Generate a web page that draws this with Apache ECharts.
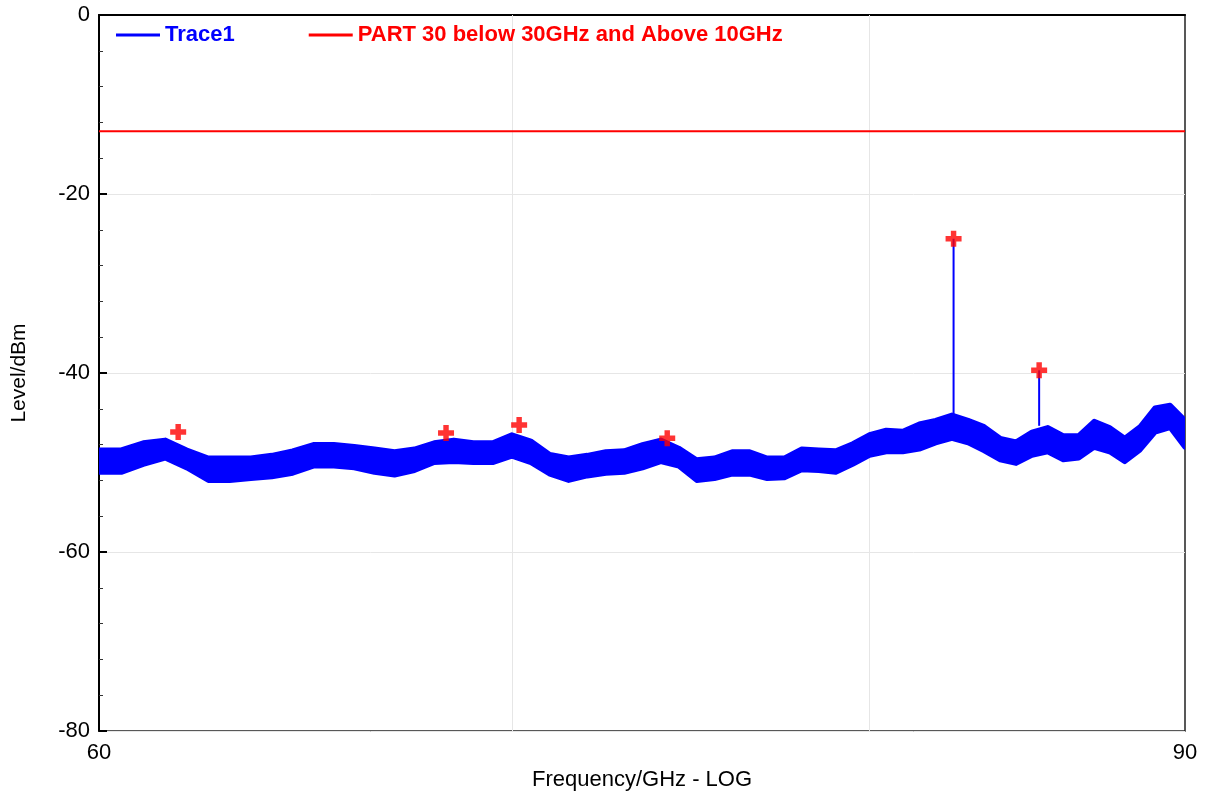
<!DOCTYPE html>
<html>
<head>
<meta charset="utf-8">
<script src="https://cdn.jsdelivr.net/npm/echarts@6/dist/echarts.min.js"></script>
<style>
html,body{margin:0;padding:0;background:#fff;}
#chart{width:1208px;height:791px;}
</style>
</head>
<body>
<div id="chart"></div>
<script>
// ---- data ----
const traceName = 'Trace1';
const limitName = 'PART 30 below 30GHz and Above 10GHz';
// sample frequencies (GHz) of the trace envelope
const freqs = [60,60.5,61,61.5,62,62.5,63,63.5,64,64.5,65,65.5,66,66.5,67,67.5,68,68.5,69,69.5,70,70.5,71,71.5,72,72.5,73,73.5,74,74.5,75,75.5,76,76.5,77,77.5,78,78.5,79,79.5,80,80.5,81,81.5,82,82.5,83,83.5,84,84.5,85,85.5,86,86.5,87,87.5,88,88.5,89,89.5,90];
// upper edge of the noisy trace band (dBm)
const upper = [-48.6,-48.6,-47.8,-47.5,-48.6,-49.5,-49.5,-49.5,-49.2,-48.7,-48.0,-48.0,-48.2,-48.5,-48.8,-48.5,-47.8,-47.5,-47.8,-47.8,-46.9,-47.6,-49.1,-49.5,-49.2,-48.8,-48.7,-48.0,-47.5,-48.4,-49.7,-49.5,-48.8,-48.8,-49.5,-49.5,-48.5,-48.6,-48.7,-47.9,-46.9,-46.4,-46.5,-45.7,-45.3,-44.7,-45.3,-46.0,-47.3,-47.7,-46.6,-46.1,-47.0,-47.0,-45.4,-46.1,-47.3,-46.0,-43.9,-43.6,-45.3];
// lower edge of the noisy trace band (dBm)
const lower = [-51.1,-51.1,-50.2,-49.5,-50.6,-52.0,-52.0,-51.8,-51.6,-51.2,-50.4,-50.4,-50.6,-51.1,-51.4,-50.9,-50.0,-49.9,-50.0,-50.0,-49.3,-50.0,-51.3,-52.0,-51.5,-51.2,-51.1,-50.6,-49.9,-50.4,-52.0,-51.8,-51.3,-51.3,-51.8,-51.7,-50.8,-50.9,-51.1,-50.2,-49.2,-48.8,-48.8,-48.5,-47.8,-47.3,-47.8,-48.7,-49.7,-50.1,-49.2,-48.8,-49.7,-49.5,-48.3,-48.8,-49.9,-48.6,-46.6,-46.1,-48.3];
// narrow spurs rising out of the trace
const spurFreqs = [82.55, 85.23];
const spurTops = [-25.0, -39.7];
const spurBases = [-44.6, -45.9];
// peak markers (red crosses)
const markerFreqs = [61.8, 68.3, 70.19, 74.18, 82.55, 85.23];
const markerLevels = [-46.6, -46.7, -45.8, -47.3, -25.0, -39.7];
// limit line
const limitLevel = -13;
// axes
const xMin = 60, xMax = 90;
const xGridValues = [70, 80];
const yMin = -80, yMax = 0, yStep = 20;

const FONT = 'Arial, "Liberation Sans", sans-serif';
const chart = echarts.init(document.getElementById('chart'), null, {renderer: 'canvas'});

const option = {
  backgroundColor: '#ffffff',
  animation: false,
  textStyle: {fontFamily: FONT},
  grid: {left: 99, right: 23, top: 15, bottom: 60, outerBoundsMode: 'none', containLabel: false,
    show: true, borderColor: '#222', borderWidth: 1.5, backgroundColor: 'transparent'},
  legend: {
    left: 111, top: 19,
    itemWidth: 44, itemHeight: 3, itemGap: 74,
    icon: 'rect',
    textStyle: {fontSize: 22, fontWeight: 'bold', fontFamily: FONT},
    data: [
      {name: traceName, icon: 'rect', itemStyle: {color: '#0000ff'}, textStyle: {color: '#0000ff'}},
      {name: limitName, icon: 'rect', itemStyle: {color: '#ff0000'}, textStyle: {color: '#ff0000'}}
    ],
    selectedMode: false
  },
  xAxis: {
    type: 'log', logBase: 10, min: xMin, max: xMax,
    name: 'Frequency/GHz - LOG', nameLocation: 'middle', nameGap: 32,
    nameTextStyle: {fontSize: 22, color: '#000', fontFamily: FONT},
    axisLine: {show: true, lineStyle: {color: '#000', width: 2}},
    axisTick: {show: false},
    splitLine: {show: false},
    minorTick: {show: false},
    axisLabel: {show: true, showMinLabel: true, showMaxLabel: true, fontSize: 22, color: '#000', margin: 11, fontFamily: FONT,
      formatter: function (v) { return Math.round(v).toString(); }}
  },
  yAxis: {
    type: 'value', min: yMin, max: yMax, interval: yStep,
    name: 'Level/dBm', nameLocation: 'middle', nameGap: 69, nameRotate: 90,
    nameTextStyle: {fontSize: 21, color: '#000', fontFamily: FONT},
    axisLine: {show: true, lineStyle: {color: '#000', width: 2}},
    axisTick: {show: true, inside: true, length: 8, lineStyle: {color: '#000', width: 2}},
    minorTick: {show: true, splitNumber: 5, length: 4, lineStyle: {color: '#333', width: 1}},
    splitLine: {show: true, lineStyle: {color: '#e6e6e6', width: 1}},
    axisLabel: {fontSize: 22, color: '#000', margin: 9, fontFamily: FONT}
  },
  series: [
    {
      name: traceName,
      type: 'custom',
      coordinateSystem: 'cartesian2d',
      itemStyle: {color: '#0000ff'},
      silent: true,
      clip: true,
      data: [[freqs[0], upper[0]]],
      renderItem: function (params, api) {
        const pts = [];
        for (let i = 0; i < freqs.length; i++) pts.push(api.coord([freqs[i], upper[i]]));
        for (let i = freqs.length - 1; i >= 0; i--) pts.push(api.coord([freqs[i], lower[i]]));
        const children = [{type: 'polygon', shape: {points: pts}, style: {fill: '#0000ff', stroke: '#0000ff', lineWidth: 5, lineJoin: 'round'}}];
        for (let k = 0; k < spurFreqs.length; k++) {
          const a = api.coord([spurFreqs[k], spurBases[k]]);
          const b = api.coord([spurFreqs[k], spurTops[k]]);
          children.push({type: 'line', shape: {x1: a[0], y1: a[1], x2: b[0], y2: b[1]}, style: {stroke: '#0000ff', lineWidth: 2}});
        }
        return {type: 'group', children: children};
      },
      z: 3
    },
    {
      name: limitName,
      type: 'line',
      data: [[xMin, limitLevel], [xMax, limitLevel]],
      showSymbol: false,
      lineStyle: {color: '#ff0000', width: 2},
      itemStyle: {color: '#ff0000'},
      silent: true,
      z: 4,
      markLine: {
        silent: true, symbol: 'none', label: {show: false},
        lineStyle: {color: '#e6e6e6', width: 1, type: 'solid'},
        data: xGridValues.map(v => ({xAxis: v})),
        z: 1
      }
    },
    {
      name: 'markers',
      type: 'scatter',
      data: markerFreqs.map((f, i) => [f, markerLevels[i]]),
      symbol: 'path://M3.3,0 H6.7 V3.3 H10 V6.7 H6.7 V10 H3.3 V6.7 H0 V3.3 H3.3 Z',
      symbolSize: 16,
      itemStyle: {color: '#ff0000'},
      silent: true,
      z: 5
    }
  ]
};
chart.setOption(option);
</script>
</body>
</html>
